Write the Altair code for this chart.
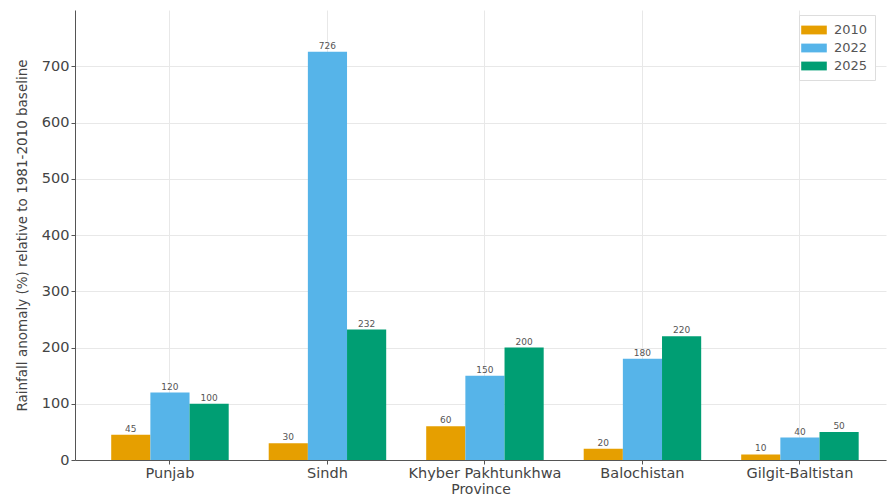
import altair as alt
import pandas as pd

provinces = ["Punjab", "Sindh", "Khyber Pakhtunkhwa", "Balochistan", "Gilgit-Baltistan"]
years = ["2010", "2022", "2025"]
v2010 = [45, 30, 60, 20, 10]
v2022 = [120, 726, 150, 180, 40]
v2025 = [100, 232, 200, 220, 50]
colors = ["#E69F00", "#56B4E9", "#009E73"]

rows = []
for i, p in enumerate(provinces):
    for y, vals in zip(years, [v2010, v2022, v2025]):
        rows.append({"Province": p, "Year": y, "Value": vals[i]})
df = pd.DataFrame(rows)

FONT = "DejaVu Sans"

x = alt.X("Province:N", sort=provinces, title="Province",
          scale=alt.Scale(paddingInner=0.254, paddingOuter=0.2017, align=0.57),
          axis=alt.Axis(labelAngle=0, labelFontSize=14.5, titleFontSize=14,
                        labelColor="#444", titleColor="#444", grid=True,
                        titleFontWeight="normal", gridColor="#e8e8e8",
                        domainColor="#555", tickColor="#555", tickSize=4,
                        labelFont=FONT, titleFont=FONT, titlePadding=3, bandPosition=0.5))
xo = alt.XOffset("Year:N", sort=years)
y = alt.Y("Value:Q", title="Rainfall anomaly (%) relative to 1981-2010 baseline",
          scale=alt.Scale(domain=[0, 800], nice=False),
          axis=alt.Axis(values=[0, 100, 200, 300, 400, 500, 600, 700],
                        labelFontSize=14.5, titleFontSize=13.5, labelColor="#444",
                        titleColor="#444", titleFontWeight="normal",
                        gridColor="#e8e8e8", domainColor="#555", tickSize=4,
                        tickColor="#555", labelFont=FONT, titleFont=FONT, titlePadding=12))

bars = alt.Chart(df).mark_bar().encode(
    x=x, xOffset=xo, y=y,
    color=alt.Color("Year:N", sort=years,
                    scale=alt.Scale(domain=years, range=colors),
                    legend=alt.Legend(title=None, orient="none", legendX=724, legendY=5,
                                      symbolType="M-1.6,-0.55L1.6,-0.55L1.6,0.55L-1.6,0.55Z",
                                      symbolSize=256, symbolStrokeWidth=0,
                                      labelFontSize=13, labelFont=FONT, labelColor="#555",
                                      fillColor="white", strokeColor="#ddd", padding=7,
                                      rowPadding=3, labelOffset=12))
)

labels = alt.Chart(df).mark_text(dy=-6, fontSize=9, color="#555", font=FONT).encode(
    x=x, xOffset=xo, y=y, text=alt.Text("Value:Q")
)

chart = (bars + labels).properties(
    width=811, height=450,
    autosize=alt.AutoSizeParams(type="none"),
    padding={"left": 75, "top": 10, "right": 2, "bottom": 42},
).configure_view(stroke=None)

chart.save("out.html", embed_options={"renderer": "svg", "actions": False})
